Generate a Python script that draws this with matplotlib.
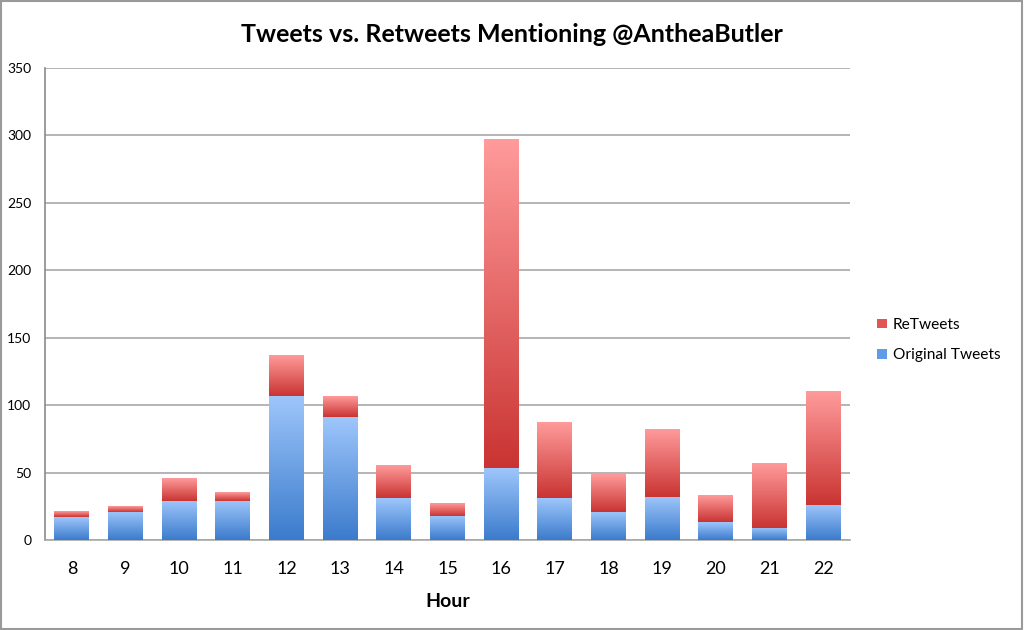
import numpy as np
import matplotlib.pyplot as plt
from matplotlib.colors import LinearSegmentedColormap
from matplotlib.patches import Rectangle

hours = [8, 9, 10, 11, 12, 13, 14, 15, 16, 17, 18, 19, 20, 21, 22]
original = [17, 21, 29, 29, 107, 91, 31, 18, 53, 31, 21, 32, 13, 9, 26]
retweets = [4, 4, 17, 6, 30, 15, 24, 9, 244, 56, 28, 50, 20, 48, 84]

plt.rcParams['font.family'] = ['Lato', 'DejaVu Sans']

blue_cm = LinearSegmentedColormap.from_list('b', ['#3b7bcc', '#9ec6fb'])
red_cm = LinearSegmentedColormap.from_list('r', ['#c93432', '#ff9b9b'])
grad = np.linspace(0, 1, 256).reshape(-1, 1)


def gradient_bar(ax, x, bottom, height, cmap, width=0.65):
    if height <= 0:
        return
    ax.imshow(grad, cmap=cmap, origin='lower', aspect='auto',
              extent=[x - width / 2, x + width / 2, bottom, bottom + height],
              zorder=3, interpolation='bilinear')


fig = plt.figure(figsize=(10.24, 6.3), dpi=100)
fig.patches.append(Rectangle((0.001, 0.002), 0.997, 0.996, transform=fig.transFigure,
                             fill=False, edgecolor='#9a9a9a', linewidth=1.5))
ax = fig.add_axes([0.044, 0.143, 0.786, 0.749])

xs = np.arange(len(hours))
for i in xs:
    gradient_bar(ax, i, 0, original[i], blue_cm)
    gradient_bar(ax, i, original[i], retweets[i], red_cm)

ax.set_xlim(-0.5, len(hours) - 0.5)
ax.set_ylim(0, 350)
ax.set_yticks(range(0, 351, 50))
ax.set_xticks(xs)
ax.set_xticklabels([str(h) for h in hours], fontsize=13)
ax.tick_params(axis='y', labelsize=10, length=0, pad=10)
ax.tick_params(axis='x', length=0, pad=15)
ax.yaxis.grid(True, color='#a8a8a8', linewidth=1.2, zorder=0)
ax.set_axisbelow(True)
for s in ['top', 'right']:
    ax.spines[s].set_visible(False)
ax.spines['left'].set_color('#8a8a8a')
ax.spines['bottom'].set_color('#a8a8a8')
ax.spines['left'].set_linewidth(1.2)
ax.spines['bottom'].set_linewidth(1.2)

ax.set_xlabel('Hour', fontsize=14, fontweight='bold', labelpad=12)
fig.text(0.5, 0.945, 'Tweets vs. Retweets Mentioning @AntheaButler',
         ha='center', va='center', fontsize=18, fontweight='bold')

h1 = Rectangle((0, 0), 1, 1, facecolor='#e05555')
h2 = Rectangle((0, 0), 1, 1, facecolor='#5f9be6')
fig.legend([h1, h2], ['ReTweets', 'Original Tweets'], loc='center left',
           bbox_to_anchor=(0.843, 0.46), frameon=False, fontsize=11.2,
           handlelength=0.6, handleheight=0.6, handletextpad=0.4, labelspacing=1.05)

plt.savefig('out.png', dpi=100)
